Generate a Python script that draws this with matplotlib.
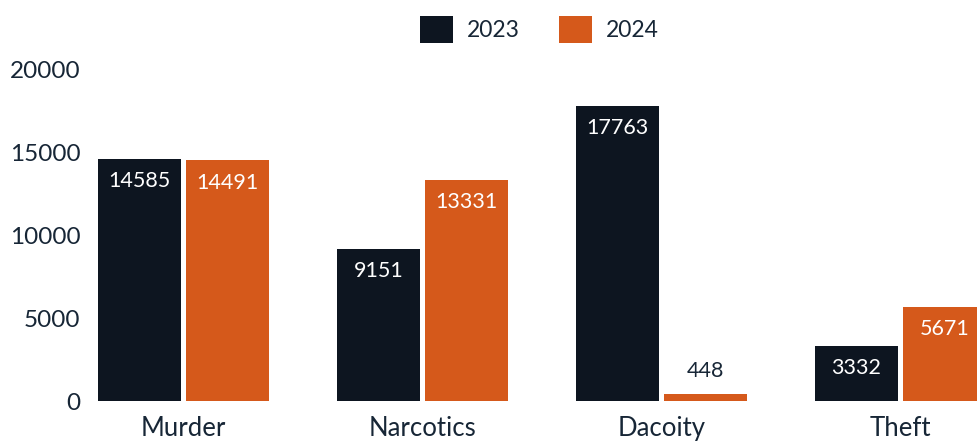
import numpy as np
import matplotlib.pyplot as plt

plt.rcParams['font.family'] = ['Lato', 'DejaVu Sans']

categories = ["Murder", "Narcotics", "Dacoity", "Theft"]
cases_2023 = [14585, 9151, 17763, 3332]
cases_2024 = [14491, 13331, 448, 5671]
years = ["2023", "2024"]

dark = "#0d1520"
orange = "#d5591b"
text_col = "#172636"

fig = plt.figure(figsize=(9.77, 4.43), dpi=100)
ax = fig.add_axes([0.0921, 0.0948, 0.9079, 0.7494])

x = np.arange(len(categories))
width = 0.347
offset = 0.184

bars_a = ax.bar(x - offset, cases_2023, width, color=dark, label=years[0])
bars_b = ax.bar(x + offset, cases_2024, width, color=orange, label=years[1])

# values go inside the bar, or just above it when the bar is too short
for bars in (bars_a, bars_b):
    for b in bars:
        v = b.get_height()
        cx = b.get_x() + b.get_width() / 2
        if v > 2000:
            ax.annotate(f"{v:.0f}", (cx, v), xytext=(0, -16), textcoords="offset points",
                        ha="center", va="center", color="white", fontsize=15.5)
        else:
            ax.annotate(f"{v:.0f}", (cx, v), xytext=(0, 16), textcoords="offset points",
                        ha="center", va="center", color=text_col, fontsize=15.5)

ax.set_xlim(-0.391, 3.320)
ax.set_ylim(0, 20000)
ax.set_yticks([0, 5000, 10000, 15000, 20000])
ax.set_xticks(x)
ax.set_xticklabels(categories)
ax.tick_params(axis="x", length=0, pad=11, labelsize=18.5, labelcolor=text_col)
ax.tick_params(axis="y", length=0, pad=7, labelsize=17.5, labelcolor=text_col)
for s in ax.spines.values():
    s.set_visible(False)

fig.legend(loc="upper center", bbox_to_anchor=(0.552, 1.0), ncol=2, frameon=False,
           fontsize=16.5, handlelength=1.45, handleheight=1.45, handletextpad=0.6,
           columnspacing=1.7, labelcolor=text_col, borderaxespad=0.3)

fig.savefig("out.png", dpi=100)
